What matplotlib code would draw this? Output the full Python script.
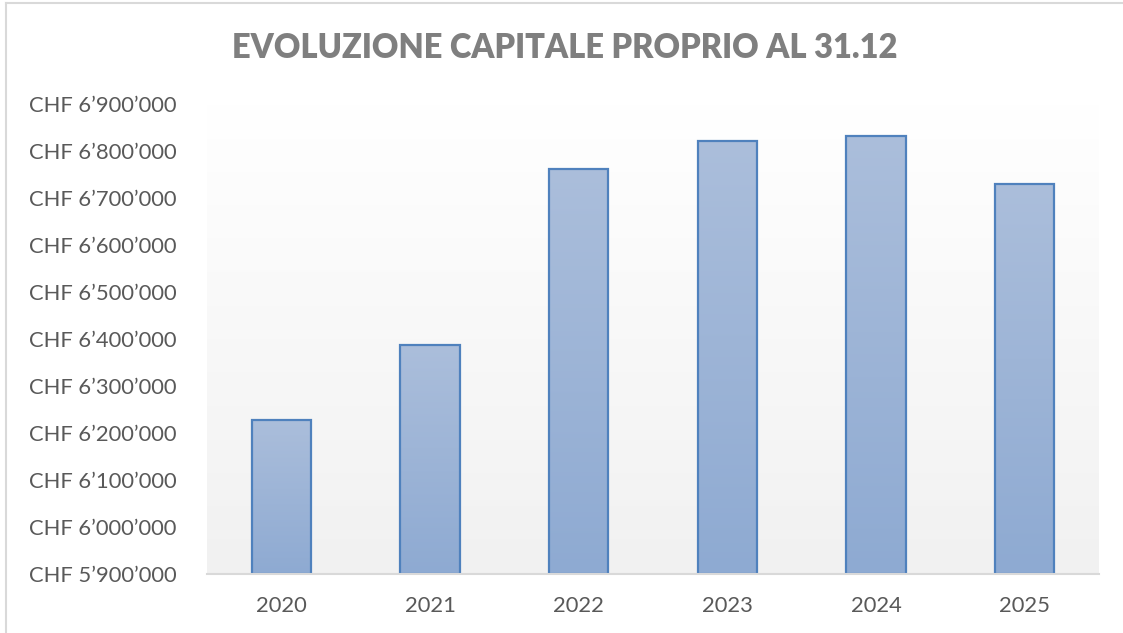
import matplotlib
matplotlib.use("Agg")
import matplotlib.pyplot as plt
import numpy as np
from matplotlib.lines import Line2D
from matplotlib.colors import LinearSegmentedColormap

years = ["2020", "2021", "2022", "2023", "2024", "2025"]
values = [6228000, 6387000, 6762000, 6821000, 6832000, 6729000]
y_ticks = [5900000 + 100000 * i for i in range(11)]
title = "EVOLUZIONE CAPITALE PROPRIO AL 31.12"

def fmt(v):
    s = f"{v:,}".replace(",", "\u2019")
    return "CHF " + s

plt.rcParams['font.family'] = ['Lato', 'DejaVu Sans']

W, H = 1123, 633
fig = plt.figure(figsize=(W / 100, H / 100), dpi=100)
fig.patch.set_facecolor("white")

# chart border (left and top visible)
fig.add_artist(Line2D([6 / W, 6 / W], [0, 1 - 3 / H], color="#d9d9d9", lw=1.5))
fig.add_artist(Line2D([6 / W, 1], [1 - 3 / H, 1 - 3 / H], color="#d9d9d9", lw=1.5))

left, right, bottom, top = 207, 1099, 574, 104
ax = fig.add_axes([left / W, 1 - bottom / H, (right - left) / W, (bottom - top) / H])
ax.set_xlim(-0.5, len(years) - 0.5)
ax.set_ylim(y_ticks[0], y_ticks[-1])

# plot area gradient background
bg_cmap = LinearSegmentedColormap.from_list("bg", ["#ffffff", "#f1f1f1"], N=256)
grad = np.linspace(0, 1, 256).reshape(-1, 1)
ax.imshow(grad, aspect="auto", cmap=bg_cmap, extent=(-0.5, len(years) - 0.5, y_ticks[0], y_ticks[-1]),
          origin="upper", zorder=0)

x = np.arange(len(years))
bars = ax.bar(x, [v - y_ticks[0] for v in values], bottom=y_ticks[0], width=0.40,
              facecolor="none", edgecolor="#4f81bd", linewidth=1.6, zorder=3)

bar_cmap = LinearSegmentedColormap.from_list("bar", ["#abbedb", "#8eaad2"], N=256)
for b in bars:
    x0, y0 = b.get_x(), b.get_y()
    w, h = b.get_width(), b.get_height()
    im = ax.imshow(grad, aspect="auto", cmap=bar_cmap, extent=(x0, x0 + w, y0, y0 + h),
                   origin="upper", zorder=2)
    im.set_clip_path(b)
ax.set_xlim(-0.5, len(years) - 0.5)
ax.set_ylim(y_ticks[0], y_ticks[-1])

for s in ["top", "right", "left"]:
    ax.spines[s].set_visible(False)
ax.spines["bottom"].set_color("#d9d9d9")
ax.spines["bottom"].set_linewidth(1.5)
ax.spines["bottom"].set_zorder(4)

ax.set_xticks(x)
ax.set_xticklabels(years)
ax.set_yticks(y_ticks)
ax.set_yticklabels([fmt(v) for v in y_ticks])
ax.tick_params(axis="both", length=0, colors="#595959", labelsize=15.8)
ax.tick_params(axis="y", pad=22)
ax.tick_params(axis="x", pad=16)

fig.text(0.503, 1 - 48 / H, title, ha="center", va="center", fontsize=23.5,
         fontweight="heavy", color="#7f7f7f")

fig.savefig("out.png", dpi=100, facecolor="white")
